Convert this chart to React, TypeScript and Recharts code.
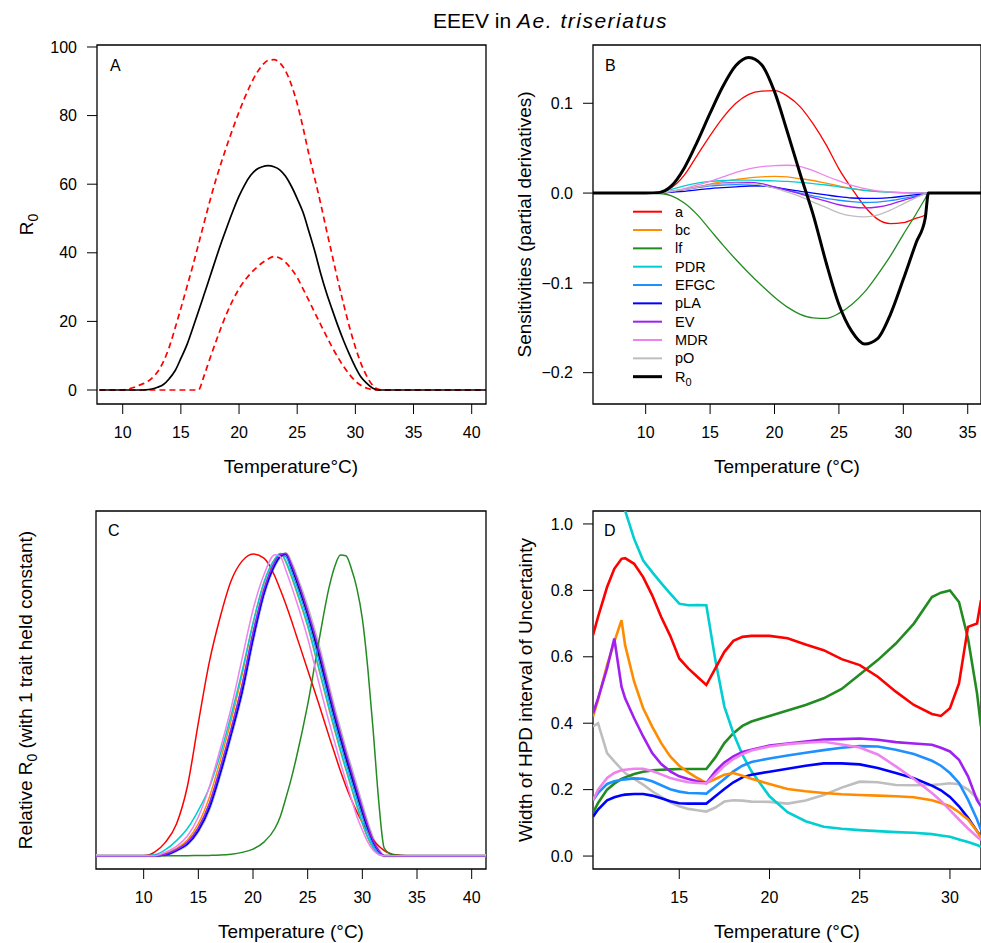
import React from 'react';
import { LineChart, Line, XAxis, YAxis, ReferenceArea } from 'recharts';

const FONT = '"Liberation Sans", Arial, Helvetica, sans-serif';

// ---------- Panel A: R0 posterior median and 95% bounds ----------
const tempA = [8, 8.5, 9, 9.5, 10, 10.5, 11, 11.5, 12, 12.5, 13, 13.5, 14, 14.5, 15, 15.5, 16, 16.5, 17, 17.5, 18, 18.5, 19, 19.5, 20, 20.5, 21, 21.5, 22, 22.5, 23, 23.5, 24, 24.5, 25, 25.5, 26, 26.5, 27, 27.5, 28, 28.5, 29, 29.5, 30, 30.5, 31, 31.5, 32, 32.5, 33, 41.23];
const r0Median = [0, 0, 0, 0, 0, 0, 0, 0, 0.05, 0.3, 0.8, 1.6, 3.3, 5.6, 9.2, 13, 17.8, 22.8, 27.9, 33, 38.2, 43.2, 47.9, 52.4, 56.5, 59.9, 62.6, 64.3, 65.1, 65.4, 65.1, 64.2, 62.3, 59.4, 55.8, 51.8, 46.3, 40.6, 34.2, 28.5, 23.5, 18.7, 14.3, 10.3, 6.7, 3.7, 1.9, 0.5, 0, 0, 0, 0];
const r0Upper = [0, 0, 0, 0, 0, 0.3, 0.8, 1.5, 2.2, 3.4, 5.3, 8.3, 12.5, 18, 23.8, 29.8, 35.9, 42.3, 48.8, 55.2, 61.2, 66.6, 71.7, 76.5, 81.1, 85.3, 89.1, 92.3, 94.7, 96.1, 96.3, 95.4, 93, 89, 83.5, 76.5, 68.8, 61.8, 54.6, 46.9, 39.4, 31.9, 24.9, 18.3, 12.5, 7.6, 3.9, 1.3, 0.2, 0, 0, 0];
const r0Lower = [0, 0, 0, 0, 0, 0, 0, 0, 0, 0, 0, 0, 0, 0, 0, 0, 0, 0, 4.2, 9.2, 14, 18.6, 22.8, 26.4, 29.5, 32, 34, 35.7, 37.1, 38.2, 38.9, 38.5, 37.2, 35.3, 32.8, 29.5, 26.1, 22.6, 19.2, 15.8, 12.5, 9.5, 6.8, 4.5, 2.6, 1.3, 0.5, 0.1, 0, 0, 0, 0];
const ticksAx = [10, 15, 20, 25, 30, 35, 40];
const ticksAy = [0, 20, 40, 60, 80, 100];

// ---------- Panel B: sensitivities ----------
const tempB = [5.9, 9, 10, 11, 12, 13, 14, 15, 16, 17, 18, 19, 20, 21, 22, 23, 24, 25, 26, 27, 28, 29, 30, 31, 31.7, 31.95, 33, 36.1];
const sensA = [0, 0, 0, 0.001, 0.006, 0.02, 0.042, 0.064, 0.084, 0.1, 0.11, 0.1135, 0.114, 0.108, 0.096, 0.077, 0.054, 0.027, 0.005, -0.015, -0.029, -0.034, -0.033, -0.028, -0.0245, 0, 0, 0];
const sensBc = [0, 0, 0, 0, 0.001, 0.004, 0.007, 0.01, 0.013, 0.015, 0.017, 0.018, 0.0185, 0.018, 0.016, 0.014, 0.011, 0.008, 0.005, 0.003, 0.002, 0.001, 0.0005, 0.0002, 0, 0, 0, 0];
const sensLf = [0, 0, 0, -0.0005, -0.003, -0.011, -0.024, -0.041, -0.058, -0.074, -0.089, -0.103, -0.116, -0.127, -0.135, -0.139, -0.1396, -0.134, -0.124, -0.11, -0.091, -0.07, -0.046, -0.023, -0.006, 0, 0, 0];
const sensPdr = [0, 0, 0, 0.001, 0.004, 0.008, 0.011, 0.013, 0.014, 0.0145, 0.0145, 0.014, 0.0135, 0.013, 0.012, 0.0105, 0.009, 0.007, 0.005, 0.003, 0.0015, 0.0007, 0.0003, 0.0001, 0, 0, 0, 0];
const sensEfgc = [0, 0, 0, 0, 0.002, 0.004, 0.006, 0.008, 0.009, 0.0095, 0.009, 0.008, 0.006, 0.003, 0, -0.003, -0.006, -0.008, -0.0095, -0.0105, -0.01, -0.0085, -0.006, -0.003, -0.001, 0, 0, 0];
const sensPla = [0, 0, 0, 0, 0.001, 0.002, 0.0035, 0.005, 0.006, 0.007, 0.0078, 0.008, 0.0065, 0.004, 0.002, 0, -0.002, -0.004, -0.0055, -0.006, -0.0058, -0.005, -0.0035, -0.0018, -0.0005, 0, 0, 0];
const sensEv = [0, 0, 0, 0, 0.002, 0.004, 0.0065, 0.009, 0.011, 0.012, 0.012, 0.0105, 0.007, 0.003, -0.001, -0.005, -0.009, -0.013, -0.0155, -0.0165, -0.0155, -0.0125, -0.008, -0.004, -0.001, 0, 0, 0];
const sensMdr = [0, 0, 0, 0, 0.002, 0.005, 0.009, 0.013, 0.018, 0.023, 0.027, 0.0295, 0.0305, 0.031, 0.0295, 0.025, 0.019, 0.0135, 0.0085, 0.005, 0.0025, 0.0012, 0.0005, 0.0002, 0, 0, 0, 0];
const sensPo = [0, 0, 0, 0, 0.002, 0.004, 0.0065, 0.009, 0.0105, 0.011, 0.0105, 0.009, 0.0055, 0.001, -0.004, -0.01, -0.016, -0.022, -0.0255, -0.0265, -0.0245, -0.019, -0.012, -0.005, -0.001, 0, 0, 0];
const sensR0 = [0, 0, 0, 0.0005, 0.008, 0.028, 0.057, 0.089, 0.119, 0.142, 0.151, 0.143, 0.113, 0.068, 0.021, -0.024, -0.077, -0.124, -0.154, -0.168, -0.162, -0.135, -0.096, -0.055, -0.028, 0, 0, 0];
const ticksBx = [10, 15, 20, 25, 30, 35];
const ticksBy = [-0.2, -0.1, 0, 0.1];

// ---------- Panel C: relative R0 with one trait held constant ----------
const tempC = [5.64, 8, 10, 11, 12, 13, 14, 15, 16, 17, 18, 19, 20, 21, 22, 22.5, 23, 23.5, 24, 25, 26, 27, 27.5, 28, 28.5, 29, 29.5, 30, 30.5, 31, 31.5, 32, 32.5, 33, 34, 41.31];
const relR0 = [0, 0, 0, 0, 0.004, 0.018, 0.04, 0.085, 0.16, 0.275, 0.405, 0.545, 0.72, 0.87, 0.965, 0.993, 0.997, 0.955, 0.905, 0.795, 0.665, 0.52, 0.45, 0.385, 0.32, 0.26, 0.2, 0.14, 0.085, 0.041, 0.012, 0, 0, 0, 0, 0];
const relA = [0, 0, 0, 0.012, 0.045, 0.105, 0.23, 0.44, 0.64, 0.79, 0.91, 0.975, 0.999, 0.985, 0.925, 0.88, 0.832, 0.78, 0.725, 0.615, 0.505, 0.39, 0.335, 0.28, 0.23, 0.185, 0.145, 0.11, 0.08, 0.052, 0.032, 0.017, 0.008, 0.003, 0, 0];
const relBc = [0, 0, 0, 0, 0.008, 0.024, 0.052, 0.106, 0.193, 0.314, 0.447, 0.599, 0.768, 0.901, 0.982, 1.0, 0.972, 0.925, 0.872, 0.759, 0.62, 0.478, 0.411, 0.346, 0.284, 0.224, 0.164, 0.107, 0.059, 0.024, 0.004, 0, 0, 0, 0, 0];
const relLf = [0, 0, 0, 0, 0, 0, 0, 0.0005, 0.001, 0.002, 0.005, 0.011, 0.022, 0.045, 0.09, 0.13, 0.19, 0.255, 0.33, 0.5, 0.705, 0.895, 0.96, 0.995, 0.993, 0.95, 0.885, 0.785, 0.62, 0.41, 0.18, 0.025, 0.007, 0.002, 0, 0];
const relPdr = [0, 0, 0, 0.003, 0.02, 0.05, 0.09, 0.15, 0.225, 0.335, 0.465, 0.61, 0.77, 0.905, 0.982, 1.0, 0.975, 0.928, 0.876, 0.763, 0.625, 0.483, 0.416, 0.35, 0.288, 0.228, 0.168, 0.11, 0.061, 0.026, 0.005, 0, 0, 0, 0, 0];
const relEfgc = [0, 0, 0, 0, 0.005, 0.02, 0.044, 0.092, 0.171, 0.288, 0.419, 0.563, 0.736, 0.88, 0.972, 0.996, 0.99, 0.945, 0.894, 0.783, 0.65, 0.506, 0.437, 0.372, 0.308, 0.248, 0.188, 0.129, 0.076, 0.035, 0.009, 0, 0, 0, 0, 0];
const relPla = [0, 0, 0, 0, 0.003, 0.017, 0.038, 0.082, 0.156, 0.27, 0.4, 0.54, 0.715, 0.866, 0.962, 0.99, 0.999, 0.962, 0.915, 0.806, 0.679, 0.534, 0.463, 0.398, 0.332, 0.272, 0.211, 0.151, 0.094, 0.048, 0.016, 0, 0, 0, 0, 0];
const relEv = [0, 0, 0, 0, 0.005, 0.02, 0.045, 0.093, 0.172, 0.29, 0.42, 0.565, 0.738, 0.882, 0.973, 0.997, 1.0, 0.965, 0.918, 0.81, 0.686, 0.541, 0.47, 0.404, 0.34, 0.279, 0.218, 0.157, 0.099, 0.05, 0.017, 0, 0, 0, 0, 0];
const relMdr = [0, 0, 0, 0, 0.012, 0.031, 0.065, 0.128, 0.227, 0.353, 0.489, 0.652, 0.814, 0.93, 0.996, 0.99, 0.945, 0.894, 0.839, 0.72, 0.576, 0.437, 0.372, 0.308, 0.248, 0.188, 0.13, 0.085, 0.045, 0.018, 0.004, 0, 0, 0, 0, 0];
const relPo = [0, 0, 0, 0, 0.003, 0.017, 0.038, 0.082, 0.155, 0.27, 0.4, 0.54, 0.715, 0.866, 0.962, 0.99, 1.0, 0.968, 0.922, 0.818, 0.694, 0.549, 0.477, 0.412, 0.346, 0.286, 0.224, 0.163, 0.103, 0.053, 0.018, 0, 0, 0, 0, 0];
const ticksCx = [10, 15, 20, 25, 30, 35, 40];

// ---------- Panel D: width of HPD interval ----------
const tempD = [10.22, 10.5, 11, 11.4, 11.8, 12, 12.5, 13, 13.5, 14, 14.5, 15, 15.5, 16, 16.5, 17, 17.5, 18, 18.5, 19, 20, 21, 22, 23, 24, 25, 26, 27, 28, 29, 29.5, 30, 30.5, 31, 31.5, 31.72];
const hpdA = [0.665, 0.72, 0.81, 0.865, 0.895, 0.897, 0.88, 0.84, 0.785, 0.72, 0.663, 0.595, 0.565, 0.54, 0.515, 0.565, 0.615, 0.648, 0.66, 0.663, 0.663, 0.656, 0.637, 0.62, 0.593, 0.575, 0.54, 0.495, 0.455, 0.428, 0.422, 0.445, 0.52, 0.69, 0.7, 0.77];
const hpdBc = [0.42, 0.47, 0.575, 0.645, 0.71, 0.635, 0.525, 0.445, 0.39, 0.34, 0.3, 0.272, 0.252, 0.235, 0.22, 0.232, 0.245, 0.25, 0.242, 0.233, 0.217, 0.202, 0.195, 0.19, 0.186, 0.184, 0.182, 0.18, 0.177, 0.168, 0.16, 0.15, 0.132, 0.11, 0.075, 0.055];
const hpdLf = [0.13, 0.16, 0.2, 0.218, 0.232, 0.237, 0.247, 0.254, 0.258, 0.26, 0.261, 0.262, 0.262, 0.262, 0.262, 0.297, 0.34, 0.37, 0.392, 0.405, 0.422, 0.438, 0.455, 0.475, 0.503, 0.547, 0.59, 0.64, 0.7, 0.78, 0.793, 0.8, 0.765, 0.655, 0.49, 0.39];
const hpdPdr = [1.4, 1.33, 1.22, 1.14, 1.07, 1.04, 0.955, 0.89, 0.855, 0.822, 0.79, 0.76, 0.755, 0.756, 0.755, 0.59, 0.45, 0.37, 0.305, 0.255, 0.18, 0.132, 0.105, 0.088, 0.082, 0.078, 0.075, 0.072, 0.07, 0.066, 0.062, 0.058, 0.05, 0.042, 0.033, 0.028];
const hpdEfgc = [0.168, 0.19, 0.217, 0.225, 0.23, 0.231, 0.234, 0.233, 0.225, 0.213, 0.201, 0.194, 0.19, 0.189, 0.188, 0.21, 0.232, 0.255, 0.272, 0.283, 0.294, 0.303, 0.311, 0.319, 0.326, 0.331, 0.33, 0.32, 0.307, 0.287, 0.272, 0.25, 0.22, 0.17, 0.11, 0.078];
const hpdPla = [0.118, 0.14, 0.168, 0.177, 0.183, 0.185, 0.187, 0.187, 0.182, 0.174, 0.165, 0.159, 0.158, 0.158, 0.158, 0.18, 0.202, 0.222, 0.237, 0.245, 0.254, 0.263, 0.272, 0.279, 0.279, 0.276, 0.265, 0.25, 0.234, 0.212, 0.198, 0.178, 0.15, 0.115, 0.075, 0.058];
const hpdEv = [0.43, 0.475, 0.565, 0.655, 0.51, 0.475, 0.415, 0.36, 0.31, 0.277, 0.255, 0.24, 0.232, 0.225, 0.22, 0.255, 0.282, 0.3, 0.313, 0.32, 0.333, 0.339, 0.345, 0.351, 0.352, 0.354, 0.35, 0.343, 0.339, 0.335, 0.326, 0.315, 0.29, 0.24, 0.168, 0.15];
const hpdMdr = [0.168, 0.2, 0.235, 0.25, 0.258, 0.26, 0.263, 0.263, 0.256, 0.246, 0.235, 0.228, 0.222, 0.22, 0.219, 0.245, 0.272, 0.292, 0.307, 0.318, 0.33, 0.337, 0.341, 0.344, 0.336, 0.327, 0.306, 0.27, 0.232, 0.19, 0.166, 0.138, 0.11, 0.083, 0.058, 0.048];
const hpdPo = [0.39, 0.4, 0.31, 0.285, 0.262, 0.25, 0.232, 0.215, 0.195, 0.178, 0.162, 0.15, 0.142, 0.138, 0.134, 0.146, 0.164, 0.168, 0.167, 0.164, 0.163, 0.158, 0.167, 0.184, 0.206, 0.224, 0.222, 0.214, 0.213, 0.214, 0.216, 0.219, 0.216, 0.2, 0.175, 0.158];
const ticksDx = [15, 20, 25, 30];
const ticksDy = [0, 0.2, 0.4, 0.6, 0.8, 1.0];

// ---------- series metadata ----------
const traitNames = ['a', 'bc', 'lf', 'PDR', 'EFGC', 'pLA', 'EV', 'MDR', 'pO', 'R0'];
const traitColors: Record<string, string> = {
  a: '#FF0000',
  bc: '#FF8C00',
  lf: '#228B22',
  PDR: '#00CED1',
  EFGC: '#1E90FF',
  pLA: '#0000FF',
  EV: '#A020F0',
  MDR: '#EE82EE',
  pO: '#BEBEBE',
  R0: '#000000',
};

const rowsA = tempA.map((t, i) => ({ t, median: r0Median[i], upper: r0Upper[i], lower: r0Lower[i] }));
const rowsB = tempB.map((t, i) => ({
  t, a: sensA[i], bc: sensBc[i], lf: sensLf[i], PDR: sensPdr[i], EFGC: sensEfgc[i],
  pLA: sensPla[i], EV: sensEv[i], MDR: sensMdr[i], pO: sensPo[i], R0: sensR0[i],
}));
const rowsC = tempC.map((t, i) => ({
  t, a: relA[i], bc: relBc[i], lf: relLf[i], PDR: relPdr[i], EFGC: relEfgc[i],
  pLA: relPla[i], EV: relEv[i], MDR: relMdr[i], pO: relPo[i], R0: relR0[i],
}));
const rowsD = tempD.map((t, i) => ({
  t, a: hpdA[i], bc: hpdBc[i], lf: hpdLf[i], PDR: hpdPdr[i], EFGC: hpdEfgc[i],
  pLA: hpdPla[i], EV: hpdEv[i], MDR: hpdMdr[i], pO: hpdPo[i],
}));

type LineSpec = { key: string; color: string; width: number; dash?: string; curve: 'monotone' | 'linear' };

type PanelProps = {
  left: number; top: number; width: number; height: number;
  margin: { top: number; right: number; bottom: number; left: number };
  yWidth: number; xHeight: number;
  xDomain: [number, number]; yDomain: [number, number];
  xTicks: number[]; yTicks?: number[]; yFmt?: (v: number) => string;
  data: any[]; lines: LineSpec[];
};

function Panel(p: PanelProps) {
  const showY = !!p.yTicks;
  return (
    <div style={{ position: 'absolute', left: p.left, top: p.top }}>
      <LineChart width={p.width} height={p.height} data={p.data} margin={p.margin}>
        <XAxis
          type="number" dataKey="t" domain={p.xDomain} ticks={p.xTicks} interval={0}
          allowDataOverflow axisLine={false} tickLine={{ stroke: '#000', strokeWidth: 1 }}
          tickSize={10} tickMargin={13} height={p.xHeight}
          tick={{ fill: '#000', fontSize: 16 }}
        />
        <YAxis
          type="number" domain={p.yDomain} ticks={p.yTicks} interval={0}
          allowDataOverflow axisLine={false}
          tickLine={showY ? { stroke: '#000', strokeWidth: 1 } : false}
          tick={showY ? { fill: '#000', fontSize: 16 } : false}
          tickSize={10} tickMargin={10} width={p.yWidth} tickFormatter={p.yFmt}
        />
        {p.lines.map((l) => (
          <Line
            key={l.key} dataKey={l.key} type={l.curve} stroke={l.color} strokeWidth={l.width}
            strokeDasharray={l.dash} dot={false} activeDot={false} isAnimationActive={false}
          />
        ))}
        <ReferenceArea
          x1={p.xDomain[0]} x2={p.xDomain[1]} y1={p.yDomain[0]} y2={p.yDomain[1]}
          fill="none" fillOpacity={0} stroke="#000" strokeWidth={1.3} ifOverflow="visible"
        />
      </LineChart>
    </div>
  );
}

const fmtB = (v: number) => (Math.abs(v) < 1e-9 ? '0.0' : (v < 0 ? '\u2212' : '') + Math.abs(v).toFixed(1));
const fmtD = (v: number) => v.toFixed(1);

const linesA: LineSpec[] = [
  { key: 'upper', color: '#FF0000', width: 1.7, dash: '6 4', curve: 'monotone' },
  { key: 'lower', color: '#FF0000', width: 1.7, dash: '6 4', curve: 'monotone' },
  { key: 'median', color: '#000000', width: 1.7, curve: 'monotone' },
];
const linesB: LineSpec[] = traitNames.map((n) => ({
  key: n, color: traitColors[n], width: n === 'R0' ? 3 : 1.3, curve: 'monotone',
}));
const orderC = ['pO', 'R0', 'a', 'bc', 'lf', 'PDR', 'EFGC', 'pLA', 'EV', 'MDR'];
const linesC: LineSpec[] = orderC.map((n) => ({
  key: n, color: traitColors[n], width: n === 'pO' ? 3.2 : 1.5, curve: 'monotone',
}));
const orderD = ['pO', 'lf', 'PDR', 'EFGC', 'pLA', 'bc', 'EV', 'MDR', 'a'];
const linesD: LineSpec[] = orderD.map((n) => ({
  key: n, color: traitColors[n], width: 2.6, curve: 'linear',
}));

function Overlay() {
  const legendTop = 211.7;
  const legendStep = 18.33;
  return (
    <svg width={981} height={943} style={{ position: 'absolute', left: 0, top: 0, pointerEvents: 'none' }} fontFamily={FONT}>
      <text x={433} y={28} fontSize={21} fill="#000">
        EEEV in{' '}
        <tspan fontStyle="italic" letterSpacing={1.5}>Ae. triseriatus</tspan>
      </text>

      {/* panel letters */}
      <text x={110} y={71} fontSize={16}>A</text>
      <text x={605} y={71} fontSize={16}>B</text>
      <text x={108} y={536} fontSize={16}>C</text>
      <text x={604} y={536} fontSize={16}>D</text>

      {/* x-axis titles */}
      <text x={291} y={473} fontSize={19} textAnchor="middle">Temperature°C)</text>
      <text x={787} y={473} fontSize={19} textAnchor="middle">Temperature (°C)</text>
      <text x={291} y={938} fontSize={19} textAnchor="middle">Temperature (°C)</text>
      <text x={787} y={938} fontSize={19} textAnchor="middle">Temperature (°C)</text>

      {/* y-axis titles */}
      <text transform="translate(33,224.5) rotate(-90)" fontSize={19} textAnchor="middle">
        R<tspan dy={5} fontSize={14}>0</tspan>
      </text>
      <text transform="translate(531,224.5) rotate(-90)" fontSize={19} textAnchor="middle">
        Sensitivities (partial derivatives)
      </text>
      <text transform="translate(32,690) rotate(-90)" fontSize={19} textAnchor="middle">
        Relative R<tspan dy={5} fontSize={14}>0</tspan>
        <tspan dy={-5}> (with 1 trait held constant)</tspan>
      </text>
      <text transform="translate(532,690) rotate(-90)" fontSize={19} textAnchor="middle">
        Width of HPD interval of Uncertainty
      </text>

      {/* legend of panel B */}
      {traitNames.map((n, i) => {
        const y = legendTop + i * legendStep;
        return (
          <g key={n}>
            <line x1={633} x2={662} y1={y} y2={y} stroke={traitColors[n]} strokeWidth={n === 'R0' ? 3 : 2} />
            {n === 'R0' ? (
              <text x={675} y={y + 5} fontSize={14.5}>
                R<tspan dy={4} fontSize={11}>0</tspan>
              </text>
            ) : (
              <text x={675} y={y + 5} fontSize={14.5}>{n}</text>
            )}
          </g>
        );
      })}
    </svg>
  );
}

export default function App() {
  return (
    <div style={{ position: 'absolute', left: 0, top: 0, width: 981, height: 943, background: '#fff', fontFamily: FONT, overflow: 'hidden' }}>
      <Panel
        left={0} top={0} width={490} height={470}
        margin={{ top: 45, right: 4, bottom: 0, left: 0 }} yWidth={97} xHeight={66}
        xDomain={[7.79, 41.23]} yDomain={[-4.08, 100.58]}
        xTicks={ticksAx} yTicks={ticksAy} data={rowsA} lines={linesA}
      />
      <Panel
        left={490} top={0} width={491} height={470}
        margin={{ top: 45, right: 0, bottom: 0, left: 0 }} yWidth={103} xHeight={66}
        xDomain={[5.91, 36.03]} yDomain={[-0.2349, 0.1649]}
        xTicks={ticksBx} yTicks={ticksBy} yFmt={fmtB} data={rowsB} lines={linesB}
      />
      <Panel
        left={0} top={470} width={490} height={473}
        margin={{ top: 41, right: 4, bottom: 0, left: 0 }} yWidth={96} xHeight={74}
        xDomain={[5.64, 41.31]} yDomain={[-0.044, 1.141]}
        xTicks={ticksCx} data={rowsC} lines={linesC}
      />
      <Panel
        left={490} top={470} width={491} height={473}
        margin={{ top: 41, right: 0, bottom: 0, left: 0 }} yWidth={103} xHeight={74}
        xDomain={[10.22, 31.72]} yDomain={[-0.039, 1.039]}
        xTicks={ticksDx} yTicks={ticksDy} yFmt={fmtD} data={rowsD} lines={linesD}
      />
      <Overlay />
    </div>
  );
}
